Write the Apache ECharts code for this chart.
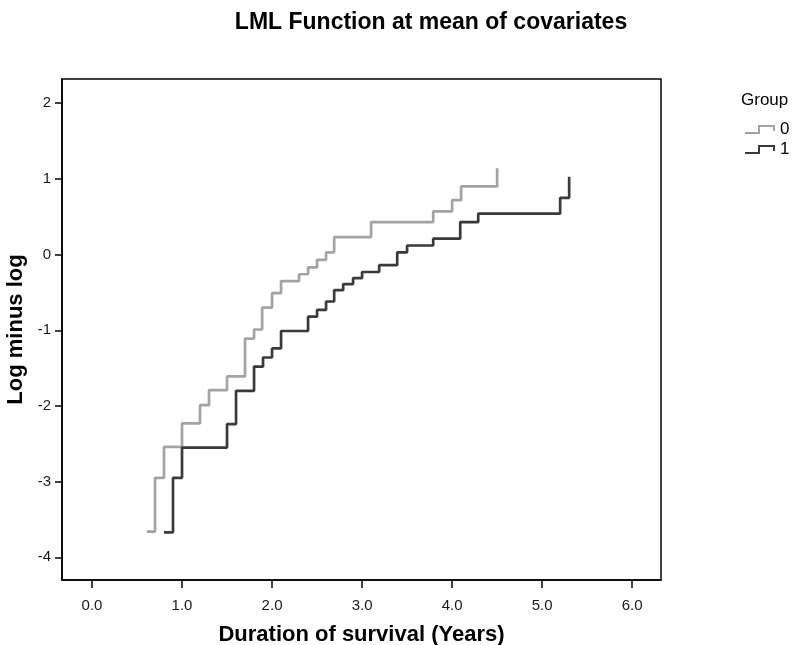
<!DOCTYPE html>
<html>
<head>
<meta charset="utf-8">
<script src="https://cdn.jsdelivr.net/npm/echarts@6/dist/echarts.min.js"></script>
<style>
  html, body { margin: 0; padding: 0; background: #fff; }
  #chart1 { width: 792px; height: 645px; }
</style>
</head>
<body>
<div id="chart1"></div>
<script>
// step points: time (years) and log minus log value
const group0Time = [0.61, 0.70, 0.80, 1.00, 1.20, 1.30, 1.50, 1.70, 1.80, 1.89, 2.00, 2.10, 2.30, 2.40, 2.50, 2.60, 2.69, 3.10, 3.79, 4.00, 4.10, 4.50];
const group0Lml = [-3.66, -2.95, -2.54, -2.23, -1.99, -1.79, -1.61, -1.11, -0.99, -0.70, -0.51, -0.35, -0.26, -0.17, -0.07, 0.03, 0.23, 0.43, 0.57, 0.72, 0.90, 1.14];

const group1Time = [0.80, 0.90, 1.00, 1.50, 1.60, 1.80, 1.90, 2.00, 2.10, 2.40, 2.50, 2.60, 2.69, 2.79, 2.90, 3.00, 3.19, 3.39, 3.50, 3.79, 4.09, 4.29, 5.20, 5.30];
const group1Lml = [-3.67, -2.95, -2.55, -2.24, -1.80, -1.48, -1.36, -1.24, -1.01, -0.82, -0.73, -0.62, -0.47, -0.39, -0.31, -0.23, -0.14, 0.03, 0.12, 0.21, 0.43, 0.54, 0.75, 1.03];

const xTicks = [0, 1, 2, 3, 4, 5, 6];
const yTicks = [-4, -3, -2, -1, 0, 1, 2];

const fontFam = '"Liberation Sans", Arial, sans-serif';
const stepIcon = 'path://M0,7 L13,7 L13,0 L30,0 L30,6 L28,6 L28,2 L15,2 L15,9 L0,9 Z';

const zip = (xs, ys) => xs.map((x, i) => [x, ys[i]]);

const getOptionChart1 = () => {
  return {
    animation: false,
    backgroundColor: '#fff',
    title: [{
      text: 'LML Function at mean of covariates',
      left: 426,
      textAlign: 'center',
      top: 6,
      textStyle: { fontFamily: fontFam, fontSize: 23, fontWeight: 'bold', color: '#000' }
    }, {
      text: 'Group',
      left: 736,
      top: 87,
      textStyle: { fontFamily: fontFam, fontSize: 17, fontWeight: 'normal', color: '#000' }
    }],
    legend: {
      orient: 'vertical',
      left: 745,
      top: 121,
      padding: 0,
      itemWidth: 30,
      itemHeight: 10,
      itemGap: 3,
      icon: stepIcon,
      itemStyle: { borderWidth: 0 },
      textStyle: { fontFamily: fontFam, fontSize: 17, color: '#000' },
      data: ['0', '1']
    },
    grid: {
      left: 62,
      right: 131,
      top: 79,
      bottom: 65,
      outerBoundsMode: 'none',
      containLabel: false,
      show: true,
      borderColor: '#000',
      borderWidth: 1.5
    },
    xAxis: {
      type: 'value',
      min: -0.333,
      max: 6.32,
      name: 'Duration of survival (Years)',
      nameLocation: 'middle',
      nameGap: 44,
      nameTextStyle: { fontFamily: fontFam, fontSize: 22, fontWeight: 'bold', color: '#000' },
      splitLine: { show: false },
      axisLine: { show: true, onZero: false, lineStyle: { color: '#000', width: 1.5 } },
      axisTick: { show: true, length: 8, customValues: xTicks, lineStyle: { color: '#000', width: 1.5 } },
      axisLabel: {
        customValues: xTicks,
        margin: 18,
        fontFamily: fontFam,
        fontSize: 15,
        color: '#1a1a1a',
        formatter: v => v.toFixed(1)
      }
    },
    yAxis: {
      type: 'value',
      min: -4.30,
      max: 2.32,
      name: 'Log minus log',
      nameLocation: 'middle',
      nameGap: 29,
      nameTextStyle: { fontFamily: fontFam, fontSize: 22, fontWeight: 'bold', color: '#000' },
      splitLine: { show: false },
      axisLine: { show: true, onZero: false, lineStyle: { color: '#000', width: 1.5 } },
      axisTick: { show: true, length: 7, customValues: yTicks, lineStyle: { color: '#000', width: 1.5 } },
      axisLabel: {
        customValues: yTicks,
        margin: 11,
        fontFamily: fontFam,
        fontSize: 15,
        color: '#1a1a1a'
      }
    },
    series: [{
      name: '0',
      type: 'line',
      step: 'end',
      showSymbol: false,
      data: zip(group0Time, group0Lml),
      itemStyle: { color: '#a3a3a3' },
      lineStyle: { color: '#a3a3a3', width: 2.7 }
    }, {
      name: '1',
      type: 'line',
      step: 'end',
      showSymbol: false,
      data: zip(group1Time, group1Lml),
      itemStyle: { color: '#3a3a3a' },
      lineStyle: { color: '#3a3a3a', width: 2.7 }
    }]
  };
};

const initChart = () => {
  const chart1 = echarts.init(document.getElementById('chart1'));
  chart1.setOption(getOptionChart1());
};

window.addEventListener('load', function() {
  initChart();
});
</script>
</body>
</html>
